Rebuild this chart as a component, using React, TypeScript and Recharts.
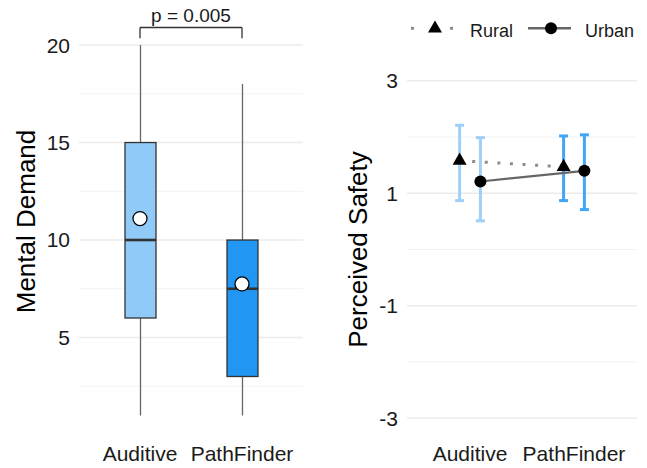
import {
  ComposedChart,
  Bar,
  Cell,
  Line,
  Scatter,
  ErrorBar,
  XAxis,
  YAxis,
  CartesianGrid,
  ReferenceLine,
  Legend,
} from 'recharts';

// left panel: mental demand box plot
const techniques = ['Auditive', 'PathFinder'];
const boxMin = [1, 1];
const boxQ1 = [6, 3];
const boxMedian = [10, 7.5];
const boxQ3 = [15, 10];
const boxMax = [20, 18];
const boxMean = [11.1, 7.75];
const mentalTicks = [5, 10, 15, 20];
const mentalMinor = [2.5, 7.5, 12.5, 17.5];
const pValueLabel = 'p = 0.005';

// right panel: perceived safety, mean with error bars per area
const ruralMean = [1.58, 1.47];
const ruralLow = [0.87, 0.87];
const ruralHigh = [2.21, 2.02];
const urbanMean = [1.21, 1.4];
const urbanLow = [0.51, 0.71];
const urbanHigh = [1.99, 2.04];
const safetyTicks = [-3, -1, 1, 3];
const safetyMinor = [-2, 0, 2];

const FONT = '"Liberation Sans", Arial, sans-serif';
const boxColors = ['#90CAF9', '#2196F3'];
const errColors = ['#9FD0F9', '#42A5F5'];
const DODGE = 0.1;

const boxData = techniques.map((name, i) => ({
  name,
  range: [boxQ1[i], boxQ3[i]],
  min: boxMin[i],
  q1: boxQ1[i],
  median: boxMedian[i],
  q3: boxQ3[i],
  max: boxMax[i],
  mean: boxMean[i],
}));

const toPoints = (means: number[], lows: number[], highs: number[], shift: number) =>
  techniques.map((t, i) => ({
    technique: t,
    x: i + 1 + shift,
    y: means[i],
    err: [means[i] - lows[i], highs[i] - means[i]],
  }));

const ruralPoints = toPoints(ruralMean, ruralLow, ruralHigh, -DODGE);
const urbanPoints = toPoints(urbanMean, urbanLow, urbanHigh, DODGE);
const errorGroups = techniques.map((_, i) => [ruralPoints[i], urbanPoints[i]]);

function BoxShape(props: any) {
  const { x, y, width, height, payload, fill } = props;
  const top = Math.min(y, y + height);
  const h = Math.abs(height);
  const { min, q1, median, q3, max } = payload;
  const perUnit = h / (q3 - q1);
  const toY = (v: number) => top + (q3 - v) * perUnit;
  const cx = x + width / 2;
  return (
    <g>
      <line x1={cx} x2={cx} y1={toY(max)} y2={toY(q3)} stroke="#666" strokeWidth={1.3} />
      <line x1={cx} x2={cx} y1={toY(q1)} y2={toY(min)} stroke="#666" strokeWidth={1.3} />
      <rect x={x} y={top} width={width} height={h} fill={fill} stroke="#333" strokeWidth={1.3} />
      <line x1={x} x2={x + width} y1={toY(median)} y2={toY(median)} stroke="#333" strokeWidth={2.6} />
    </g>
  );
}

function MeanDot(props: any) {
  const { cx, cy } = props;
  if (cx == null || cy == null) return <g />;
  return <circle cx={cx} cy={cy} r={7} fill="#fff" stroke="#000" strokeWidth={1.3} />;
}

function Triangle({ cx, cy, side = 14 }: { cx: number; cy: number; side?: number }) {
  const h = (side * Math.sqrt(3)) / 2;
  const pts = `${cx},${cy - (2 * h) / 3} ${cx - side / 2},${cy + h / 3} ${cx + side / 2},${cy + h / 3}`;
  return <polygon points={pts} fill="#000" />;
}

function TriangleShape(props: any) {
  return <Triangle cx={props.cx} cy={props.cy} />;
}

function CircleShape(props: any) {
  return <circle cx={props.cx} cy={props.cy} r={6} fill="#000" />;
}

function Hidden() {
  return <g />;
}

function SafetyLegend() {
  return (
    <svg width={317} height={30} style={{ display: 'block' }}>
      <line x1={81} x2={84} y1={15.3} y2={15.3} stroke="#8c8c8c" strokeWidth={3} />
      <line x1={120} x2={123} y1={15.3} y2={15.3} stroke="#8c8c8c" strokeWidth={3} />
      <Triangle cx={105} cy={15.5} />
      <text x={140} y={23.5} fontSize={18} fontFamily={FONT} fill="#1a1a1a">Rural</text>
      <line x1={198} x2={241} y1={15.3} y2={15.3} stroke="#666" strokeWidth={2.5} />
      <circle cx={221} cy={15.3} r={6} fill="#000" />
      <text x={255} y={23.5} fontSize={18} fontFamily={FONT} fill="#1a1a1a">Urban</text>
    </svg>
  );
}

const tickStyle = { fontSize: 21, fill: '#1a1a1a', fontFamily: FONT };
const titleStyle = { fontSize: 26, fill: '#000', fontFamily: FONT, textAnchor: 'middle' as const };

function MentalDemandChart() {
  return (
    <ComposedChart
      width={320}
      height={468}
      data={boxData}
      margin={{ top: 8, right: 17, bottom: 0, left: 0 }}
    >
      <CartesianGrid vertical={false} horizontalValues={mentalMinor} stroke="#F2F2F2" strokeWidth={1} />
      <CartesianGrid vertical={false} horizontalValues={mentalTicks} stroke="#EBEBEB" strokeWidth={1.5} />
      <XAxis
        dataKey="name"
        padding={{ left: 10, right: 10 }}
        axisLine={false}
        tickLine={false}
        tickSize={0}
        tickMargin={11}
        height={33}
        tick={tickStyle}
      />
      <YAxis
        type="number"
        domain={[0, 21.9]}
        ticks={mentalTicks}
        allowDataOverflow
        axisLine={false}
        tickLine={false}
        tickSize={0}
        tickMargin={9}
        width={79}
        tick={tickStyle}
        label={{ value: 'Mental Demand', angle: -90, position: 'insideLeft', offset: 26, style: titleStyle }}
      />
      <Bar dataKey="range" barSize={31} shape={BoxShape} isAnimationActive={false}>
        {boxData.map((d, i) => (
          <Cell key={d.name} fill={boxColors[i]} />
        ))}
      </Bar>
      <Line dataKey="mean" stroke="none" dot={MeanDot} activeDot={false} isAnimationActive={false} />
      <ReferenceLine
        segment={[{ x: techniques[0], y: 20.9 }, { x: techniques[1], y: 20.9 }]}
        stroke="#333"
        strokeWidth={1.3}
        label={{ value: pValueLabel, position: 'top', offset: 5, fontSize: 19, fill: '#1a1a1a', fontFamily: FONT }}
      />
      <ReferenceLine
        segment={[{ x: techniques[0], y: 20.9 }, { x: techniques[0], y: 20.35 }]}
        stroke="#333"
        strokeWidth={1.3}
      />
      <ReferenceLine
        segment={[{ x: techniques[1], y: 20.9 }, { x: techniques[1], y: 20.35 }]}
        stroke="#333"
        strokeWidth={1.3}
      />
    </ComposedChart>
  );
}

function SafetyChart() {
  return (
    <ComposedChart width={317} height={468} margin={{ top: 34, right: 10, bottom: 0, left: 0 }}>
      <CartesianGrid vertical={false} horizontalValues={safetyMinor} stroke="#F2F2F2" strokeWidth={1} />
      <CartesianGrid vertical={false} horizontalValues={safetyTicks} stroke="#EBEBEB" strokeWidth={1.5} />
      <Legend
        verticalAlign="top"
        content={SafetyLegend}
        wrapperStyle={{ top: 13, left: 0, width: 317, height: 30 }}
      />
      <XAxis
        type="number"
        dataKey="x"
        domain={[0.394, 2.606]}
        ticks={[1, 2]}
        tickFormatter={(v: number) => techniques[v - 1]}
        allowDataOverflow
        axisLine={false}
        tickLine={false}
        tickSize={0}
        tickMargin={11}
        height={33}
        tick={tickStyle}
      />
      <YAxis
        type="number"
        dataKey="y"
        domain={[-3.3, 3.3]}
        ticks={safetyTicks}
        allowDataOverflow
        axisLine={false}
        tickLine={false}
        tickSize={0}
        tickMargin={9}
        width={77}
        tick={tickStyle}
        label={{ value: 'Perceived Safety', angle: -90, position: 'insideLeft', offset: 28, style: titleStyle }}
      />
      {errorGroups.map((group, i) => (
        <Scatter key={techniques[i]} data={group} shape={Hidden} isAnimationActive={false} legendType="none">
          <ErrorBar dataKey="err" direction="y" stroke={errColors[i]} strokeWidth={3} width={4.5} />
        </Scatter>
      ))}
      <Scatter
        name="Rural"
        data={ruralPoints}
        shape={TriangleShape}
        line={{ stroke: '#8c8c8c', strokeWidth: 3, strokeDasharray: '3 9.6' }}
        isAnimationActive={false}
      />
      <Scatter
        name="Urban"
        data={urbanPoints}
        shape={CircleShape}
        line={{ stroke: '#666', strokeWidth: 2.2 }}
        isAnimationActive={false}
      />
    </ComposedChart>
  );
}

export default function App() {
  return (
    <div style={{ position: 'relative', width: 647, height: 468, fontFamily: FONT, background: '#fff' }}>
      <style>{'body{margin:0}'}</style>
      <div style={{ position: 'absolute', left: 0, top: 0 }}>
        <MentalDemandChart />
      </div>
      <div style={{ position: 'absolute', left: 330, top: 0 }}>
        <SafetyChart />
      </div>
    </div>
  );
}
